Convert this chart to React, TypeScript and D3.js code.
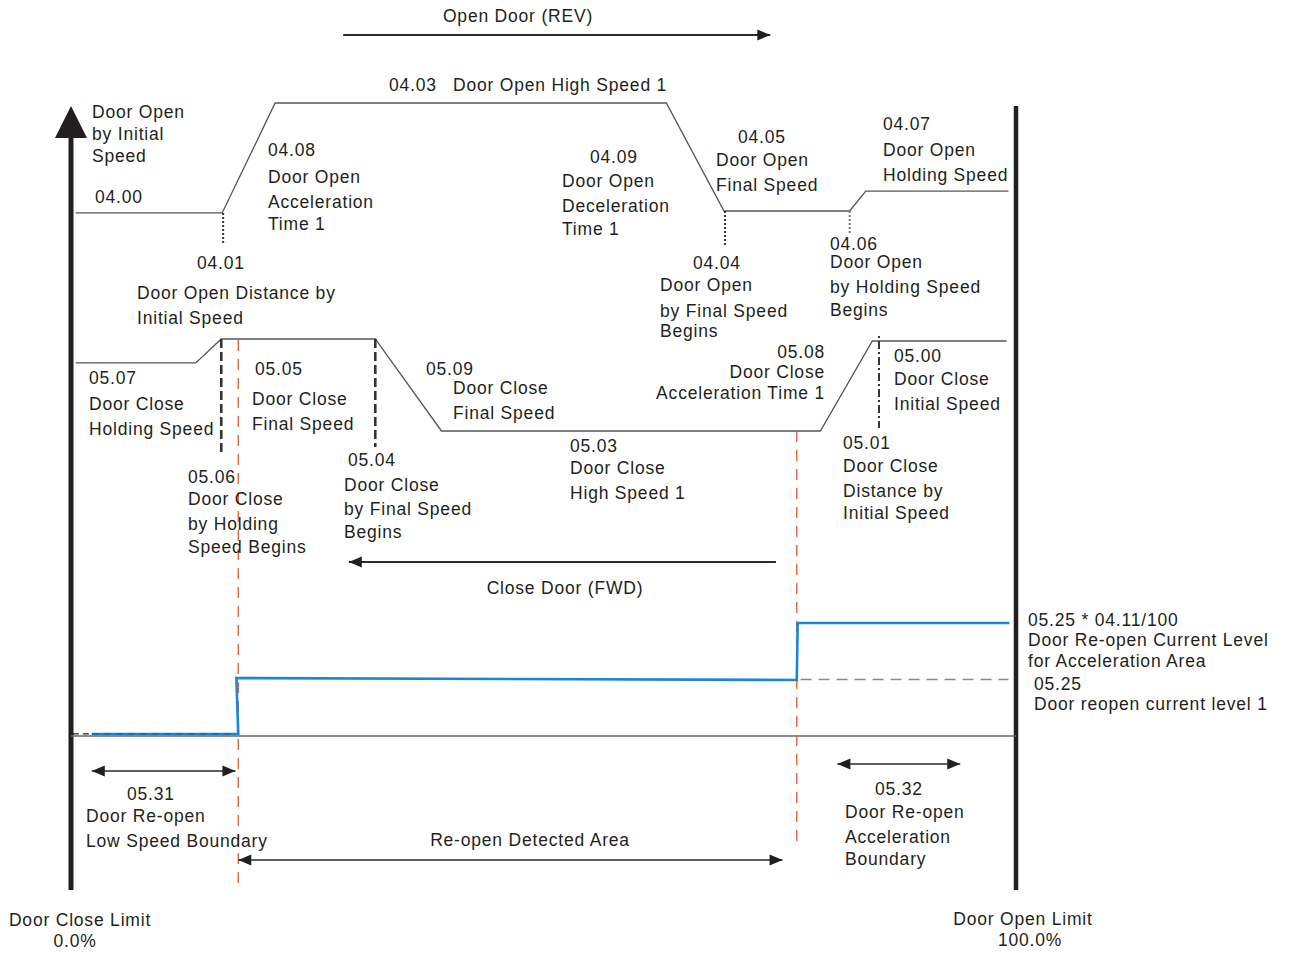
import React from "react";
import * as d3 from "d3";

// ---- Data (door position in %, speed / current levels in relative units) ----
const openPos = [0.5, 16.0, 21.6, 63.0, 69.1, 82.4, 84.1, 99.2];
const openSpeed = [16.7, 16.7, 100, 100, 18.2, 18.2, 33.3, 33.3];

const closePos = [0.5, 13.2, 15.9, 32.2, 39.2, 79.3, 84.8, 99.0];
const closeSpeed = [38.7, 38.7, 17.1, 17.1, 100, 100, 18.9, 18.9];

const currentPos = [2.2, 17.7, 17.5, 76.8, 76.9, 99.3];
const currentLevel = [1.8, 1.8, 51.3, 49.6, 100, 100];
const reopenLevel1 = 50;

const reopenBounds = [17.7, 76.8];

// markers: position %, panel, from level, to level, style
const markers = [
  { pos: 16.1, panel: "open", from: 16.7, to: -7.5, kind: "dot" },
  { pos: 69.2, panel: "open", from: 18.2, to: -7.5, kind: "dot" },
  { pos: 82.4, panel: "open", from: 18.2, to: 1.5, kind: "dotLight" },
  { pos: 85.5, panel: "close", from: 14.4, to: 97.3, kind: "dashdot" },
  { pos: 15.9, panel: "close", from: 17.1, to: 118.9, kind: "dash" },
  { pos: 32.2, panel: "close", from: 17.1, to: 114.4, kind: "dash" },
];

type Lbl = { x: number; y: number; t: string; anchor?: string };
const labels: Lbl[] = [
  { x: 518, y: 22, t: "Open Door (REV)", anchor: "middle" },
  { x: 389, y: 91, t: "04.03" },
  { x: 453, y: 91, t: "Door Open High Speed 1" },
  { x: 92, y: 118, t: "Door Open" },
  { x: 92, y: 140, t: "by Initial" },
  { x: 92, y: 162, t: "Speed" },
  { x: 95, y: 203, t: "04.00" },
  { x: 268, y: 156, t: "04.08" },
  { x: 268, y: 183, t: "Door Open" },
  { x: 268, y: 208, t: "Acceleration" },
  { x: 268, y: 230, t: "Time 1" },
  { x: 197, y: 269, t: "04.01" },
  { x: 137, y: 299, t: "Door Open Distance by" },
  { x: 137, y: 324, t: "Initial Speed" },
  { x: 590, y: 163, t: "04.09" },
  { x: 562, y: 187, t: "Door Open" },
  { x: 562, y: 212, t: "Deceleration" },
  { x: 562, y: 235, t: "Time 1" },
  { x: 738, y: 143, t: "04.05" },
  { x: 716, y: 166, t: "Door Open" },
  { x: 716, y: 191, t: "Final Speed" },
  { x: 883, y: 130, t: "04.07" },
  { x: 883, y: 156, t: "Door Open" },
  { x: 883, y: 181, t: "Holding Speed" },
  { x: 830, y: 250, t: "04.06" },
  { x: 830, y: 268, t: "Door Open" },
  { x: 830, y: 293, t: "by Holding Speed" },
  { x: 830, y: 316, t: "Begins" },
  { x: 693, y: 269, t: "04.04" },
  { x: 660, y: 291, t: "Door Open" },
  { x: 660, y: 317, t: "by Final Speed" },
  { x: 660, y: 337, t: "Begins" },
  { x: 825, y: 358, t: "05.08", anchor: "end" },
  { x: 825, y: 378, t: "Door Close", anchor: "end" },
  { x: 825, y: 399, t: "Acceleration Time 1", anchor: "end" },
  { x: 894, y: 362, t: "05.00" },
  { x: 894, y: 385, t: "Door Close" },
  { x: 894, y: 410, t: "Initial Speed" },
  { x: 89, y: 384, t: "05.07" },
  { x: 89, y: 410, t: "Door Close" },
  { x: 89, y: 435, t: "Holding Speed" },
  { x: 255, y: 375, t: "05.05" },
  { x: 252, y: 405, t: "Door Close" },
  { x: 252, y: 430, t: "Final Speed" },
  { x: 426, y: 375, t: "05.09" },
  { x: 453, y: 394, t: "Door Close" },
  { x: 453, y: 419, t: "Final Speed" },
  { x: 348, y: 466, t: "05.04" },
  { x: 344, y: 491, t: "Door Close" },
  { x: 344, y: 515, t: "by Final Speed" },
  { x: 344, y: 538, t: "Begins" },
  { x: 188, y: 483, t: "05.06" },
  { x: 188, y: 505, t: "Door Close" },
  { x: 188, y: 530, t: "by Holding" },
  { x: 188, y: 553, t: "Speed Begins" },
  { x: 570, y: 452, t: "05.03" },
  { x: 570, y: 474, t: "Door Close" },
  { x: 570, y: 499, t: "High Speed 1" },
  { x: 843, y: 449, t: "05.01" },
  { x: 843, y: 472, t: "Door Close" },
  { x: 843, y: 497, t: "Distance by" },
  { x: 843, y: 519, t: "Initial Speed" },
  { x: 565, y: 594, t: "Close Door (FWD)", anchor: "middle" },
  { x: 1028, y: 626, t: "05.25 * 04.11/100" },
  { x: 1028, y: 646, t: "Door Re-open Current Level" },
  { x: 1028, y: 667, t: "for Acceleration Area" },
  { x: 1034, y: 690, t: "05.25" },
  { x: 1034, y: 710, t: "Door reopen current level 1" },
  { x: 127, y: 800, t: "05.31" },
  { x: 86, y: 822, t: "Door Re-open" },
  { x: 86, y: 847, t: "Low Speed Boundary" },
  { x: 530, y: 846, t: "Re-open Detected Area", anchor: "middle" },
  { x: 875, y: 795, t: "05.32" },
  { x: 845, y: 818, t: "Door Re-open" },
  { x: 845, y: 843, t: "Acceleration" },
  { x: 845, y: 865, t: "Boundary" },
  { x: 80, y: 926, t: "Door Close Limit", anchor: "middle" },
  { x: 75, y: 947, t: "0.0%", anchor: "middle" },
  { x: 1023, y: 925, t: "Door Open Limit", anchor: "middle" },
  { x: 1030, y: 946, t: "100.0%", anchor: "middle" },
];

// arrows: [x1 %, x2 %, y px, heads]
const arrows = [
  { a: 28.8, b: 74.0, y: 35, heads: "end" },
  { a: 74.6, b: 29.4, y: 562, heads: "end" },
  { a: 2.2, b: 17.4, y: 771, heads: "both" },
  { a: 17.7, b: 75.3, y: 860, heads: "both" },
  { a: 81.1, b: 94.1, y: 764, heads: "both" },
];

export default function App() {
  const W = 1292;
  const H = 953;
  const x = d3.scaleLinear().domain([0, 100]).range([71, 1016]);
  const yOpen = d3.scaleLinear().domain([0, 100]).range([235, 103]);
  const yClose = d3.scaleLinear().domain([0, 100]).range([320, 431]);
  const yCur = d3.scaleLinear().domain([0, 100]).range([736, 623]);

  const line = d3.line<[number, number]>();
  const openPath = line(openPos.map((p, i) => [x(p), yOpen(openSpeed[i])]));
  const closePath = line(closePos.map((p, i) => [x(p), yClose(closeSpeed[i])]));
  const curPath = line(currentPos.map((p, i) => [x(p), yCur(currentLevel[i])]));

  const font = "'Liberation Sans', Arial, sans-serif";
  const txt = "#231f20";

  const head = (xt: number, y: number, dir: number, len = 13, hw = 5.5) =>
    `M${xt},${y} L${xt - dir * len},${y - hw} L${xt - dir * len},${y + hw} Z`;

  return (
    <svg width={W} height={H} style={{ position: "absolute", left: 0, top: 0 }}>
      <rect width={W} height={H} fill="#fff" />
      {/* axes */}
      <line x1={x(0)} x2={x(0)} y1={132} y2={890} stroke="#231f20" strokeWidth={5} />
      <path d={`M${x(0)},106 L${x(0) - 16},138 L${x(0) + 16},138 Z`} fill="#231f20" />
      <line x1={x(100)} x2={x(100)} y1={106} y2={890} stroke="#231f20" strokeWidth={4.5} />

      {/* profiles */}
      <path d={openPath || ""} fill="none" stroke="#555" strokeWidth={1.3} />
      <path d={closePath || ""} fill="none" stroke="#555" strokeWidth={1.3} />

      {/* markers */}
      {markers.map((m, i) => {
        const ys = m.panel === "open" ? yOpen : yClose;
        const dash =
          m.kind === "dash" ? "9,4" : m.kind === "dashdot" ? "2,3,8,3" : "2,2";
        const sw = m.kind === "dash" ? 2.6 : 2;
        const col = m.kind === "dotLight" ? "#777" : "#333";
        return (
          <line key={i} x1={x(m.pos)} x2={x(m.pos)} y1={ys(m.from)} y2={ys(m.to)}
            stroke={col} strokeWidth={sw} strokeDasharray={dash} />
        );
      })}

      {/* current level lines */}
      <line x1={x(0)} x2={x(100)} y1={yCur(0)} y2={yCur(0)} stroke="#666" strokeWidth={1.3} />
      <line x1={x(0.2)} x2={x(2.2)} y1={yCur(1.8)} y2={yCur(1.8)} stroke="#222" strokeWidth={1.2} strokeDasharray="6,4" />
      <line x1={x(77.2)} x2={x(99.2)} y1={yCur(reopenLevel1)} y2={yCur(reopenLevel1)} stroke="#888" strokeWidth={1.3} strokeDasharray="11,7" />

      {/* re-open boundaries */}
      <line x1={x(reopenBounds[0])} x2={x(reopenBounds[0])} y1={340} y2={890} stroke="#e8582a" strokeWidth={1.3} strokeDasharray="11,8" />
      <line x1={x(reopenBounds[1])} x2={x(reopenBounds[1])} y1={431} y2={845} stroke="#e8582a" strokeWidth={1.3} strokeDasharray="11,8" />

      <path d={curPath || ""} fill="none" stroke="#1a86d6" strokeWidth={2.6} />
      <line x1={x(2.2)} x2={x(17.4)} y1={yCur(1.8)} y2={yCur(1.8)} stroke="#1a3e6a" strokeWidth={1} strokeDasharray="7,5" opacity={0.6} />

      {/* arrows */}
      {arrows.map((a, i) => {
        const x1 = x(a.a);
        const x2 = x(a.b);
        const dir = x2 > x1 ? 1 : -1;
        return (
          <g key={i}>
            <line x1={x1} x2={x2} y1={a.y} y2={a.y} stroke="#2a2a2a" strokeWidth={a.y < 600 ? 2 : 1.3} />
            <path d={head(x2, a.y, dir)} fill="#231f20" />
            {a.heads === "both" && <path d={head(x1, a.y, -dir)} fill="#231f20" />}
          </g>
        );
      })}

      {/* labels */}
      {labels.map((l, i) => (
        <text key={i} x={l.x} y={l.y} textAnchor={l.anchor || "start"}
          fontFamily={font} fontSize={17.5} fill={txt} letterSpacing={0.8}>
          {l.t}
        </text>
      ))}
    </svg>
  );
}
